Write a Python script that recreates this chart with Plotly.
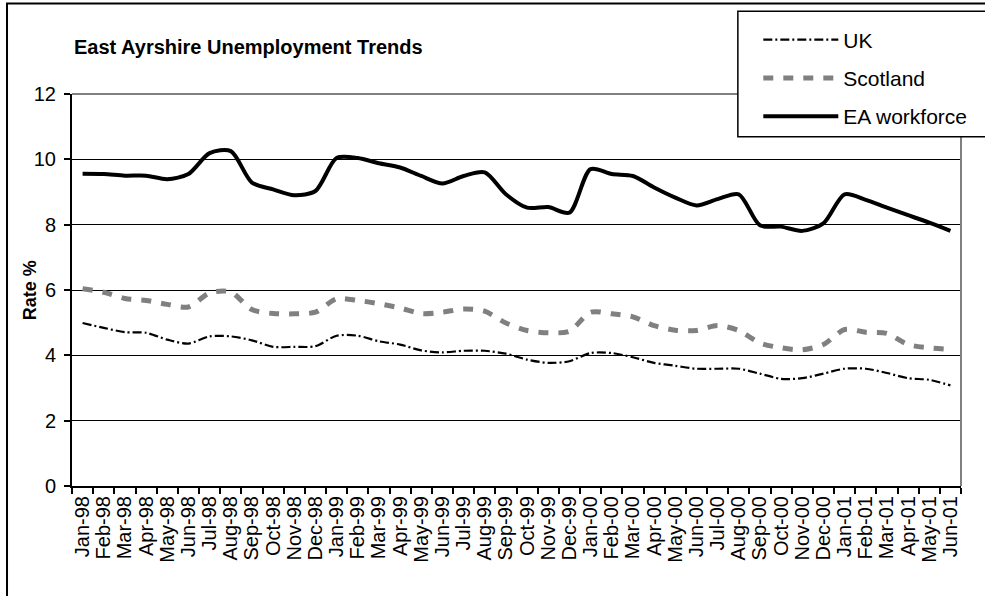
import plotly.graph_objects as go

months = ["Jan-98", "Feb-98", "Mar-98", "Apr-98", "May-98", "Jun-98", "Jul-98", "Aug-98",
          "Sep-98", "Oct-98", "Nov-98", "Dec-98", "Jan-99", "Feb-99", "Mar-99", "Apr-99",
          "May-99", "Jun-99", "Jul-99", "Aug-99", "Sep-99", "Oct-99", "Nov-99", "Dec-99",
          "Jan-00", "Feb-00", "Mar-00", "Apr-00", "May-00", "Jun-00", "Jul-00", "Aug-00",
          "Sep-00", "Oct-00", "Nov-00", "Dec-00", "Jan-01", "Feb-01", "Mar-01", "Apr-01",
          "May-01", "Jun-01"]

uk = [4.99, 4.84, 4.71, 4.69, 4.48, 4.36, 4.58, 4.58, 4.46, 4.26, 4.26, 4.28,
      4.60, 4.60, 4.43, 4.33, 4.15, 4.09, 4.14, 4.14, 4.05, 3.87, 3.77, 3.82,
      4.07, 4.07, 3.94, 3.77, 3.68, 3.59, 3.59, 3.59, 3.44, 3.28, 3.30, 3.44,
      3.59, 3.59, 3.46, 3.30, 3.25, 3.08]

scotland = [6.04, 5.93, 5.74, 5.68, 5.56, 5.48, 5.91, 5.94, 5.40, 5.28, 5.27, 5.32,
            5.73, 5.68, 5.58, 5.45, 5.28, 5.32, 5.42, 5.35, 4.99, 4.76, 4.69, 4.74,
            5.32, 5.27, 5.18, 4.91, 4.77, 4.76, 4.91, 4.76, 4.38, 4.23, 4.17, 4.33,
            4.79, 4.71, 4.67, 4.33, 4.23, 4.18]

ea = [9.56, 9.55, 9.50, 9.50, 9.39, 9.55, 10.19, 10.25, 9.29, 9.08, 8.90, 9.03,
      10.04, 10.04, 9.88, 9.75, 9.49, 9.26, 9.49, 9.60, 8.93, 8.52, 8.54, 8.37,
      9.70, 9.55, 9.49, 9.14, 8.83, 8.59, 8.78, 8.93, 7.98, 7.94, 7.81, 8.04,
      8.93, 8.76, 8.52, 8.29, 8.06, 7.81]

FONT = "Liberation Sans, Arial, sans-serif"

fig = go.Figure()
fig.add_trace(go.Scatter(x=months, y=uk, name="UK", mode="lines", legendgroup="a",
                         line=dict(color="black", width=2.2, dash="9px,3px,2px,3px",
                                   shape="spline", smoothing=0.8)))
fig.add_trace(go.Scatter(x=months, y=scotland, name="Scotland", mode="lines", legendgroup="b",
                         line=dict(color="#808080", width=5, dash="10px,10px",
                                   shape="spline", smoothing=0.8)))
fig.add_trace(go.Scatter(x=months, y=ea, name="EA workforce", mode="lines", legendgroup="c",
                         line=dict(color="black", width=4, shape="spline", smoothing=0.8)))

fig.update_layout(
    width=985, height=596,
    margin=dict(l=72, r=24, t=94, b=110),
    paper_bgcolor="white", plot_bgcolor="white",
    font=dict(family=FONT, color="black"),
    showlegend=True,
    legend=dict(x=0.772, y=1.19, xanchor="left", yanchor="top",
                bgcolor="rgba(0,0,0,0)", borderwidth=0,
                font=dict(size=21, family=FONT, color="black"),
                traceorder="grouped", tracegroupgap=8, itemwidth=75),
    xaxis=dict(type="category", range=[-0.5, len(months) - 0.5],
               tickmode="linear", tick0=0, dtick=1,
               tickson="boundaries", ticks="outside", ticklen=6, tickwidth=1.5, tickcolor="black",
               tickangle=-90, tickfont=dict(size=20, family=FONT, color="black"),
               showline=True, linecolor="black", linewidth=2,
               showgrid=False, zeroline=False),
    yaxis=dict(range=[0, 12], tickmode="linear", tick0=0, dtick=2,
               ticks="outside", ticklen=6, tickwidth=1.5, tickcolor="black",
               tickfont=dict(size=20, family=FONT, color="black"),
               ticklabelstandoff=4,
               showline=True, linecolor="black", linewidth=2,
               showgrid=True, gridcolor="black", gridwidth=1, zeroline=False),
    shapes=[
        dict(type="rect", xref="paper", yref="paper", x0=-0.0731, x1=1.3, y0=-0.6, y1=1.231,
             line=dict(color="black", width=2), fillcolor="rgba(0,0,0,0)", layer="above"),
        dict(type="line", xref="paper", yref="paper", x0=0, x1=1, y0=1, y1=1,
             line=dict(color="#808080", width=2), layer="above"),
        dict(type="line", xref="paper", yref="paper", x0=1, x1=1, y0=0, y1=1,
             line=dict(color="#808080", width=2), layer="above"),
        dict(type="rect", xref="paper", yref="paper", x0=0.749, x1=1.05, y0=0.891, y1=1.211,
             line=dict(color="black", width=1.5), fillcolor="white", layer="above"),
    ],
    annotations=[
        dict(text="<b>East Ayrshire Unemployment Trends</b>", xref="paper", yref="paper",
             x=0.0, y=1.119, xanchor="left", yanchor="middle", showarrow=False,
             font=dict(size=20, family=FONT, color="black")),
        dict(text="<b>Rate %</b>", xref="paper", yref="paper", x=-0.047, y=0.5,
             xanchor="center", yanchor="middle", textangle=-90, showarrow=False,
             font=dict(size=18, family=FONT, color="black")),
    ],
)

fig.write_html("out.html", config={"displayModeBar": False},
               post_script="document.body.style.margin='0';document.body.style.overflow='hidden';")
